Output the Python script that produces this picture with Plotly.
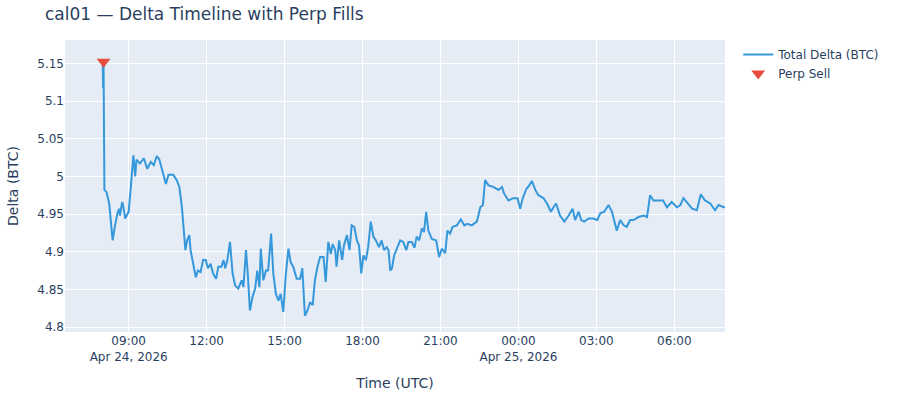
import plotly.graph_objects as go

# total delta samples (UTC)
times = [
    "2026-04-24 08:00", "2026-04-24 08:01", "2026-04-24 08:02", "2026-04-24 08:03", "2026-04-24 08:04",
    "2026-04-24 08:09", "2026-04-24 08:15", "2026-04-24 08:18", "2026-04-24 08:23", "2026-04-24 08:28",
    "2026-04-24 08:34", "2026-04-24 08:38", "2026-04-24 08:40", "2026-04-24 08:45", "2026-04-24 08:48",
    "2026-04-24 08:52", "2026-04-24 09:00", "2026-04-24 09:05", "2026-04-24 09:11", "2026-04-24 09:15",
    "2026-04-24 09:18", "2026-04-24 09:26", "2026-04-24 09:35", "2026-04-24 09:43", "2026-04-24 09:51",
    "2026-04-24 09:58", "2026-04-24 10:05", "2026-04-24 10:11", "2026-04-24 10:17", "2026-04-24 10:26",
    "2026-04-24 10:32", "2026-04-24 10:43", "2026-04-24 10:51", "2026-04-24 10:57", "2026-04-24 11:03",
    "2026-04-24 11:08", "2026-04-24 11:11", "2026-04-24 11:15", "2026-04-24 11:20", "2026-04-24 11:23",
    "2026-04-24 11:29", "2026-04-24 11:35", "2026-04-24 11:40", "2026-04-24 11:46", "2026-04-24 11:52",
    "2026-04-24 11:58", "2026-04-24 12:03", "2026-04-24 12:09", "2026-04-24 12:15", "2026-04-24 12:22",
    "2026-04-24 12:27", "2026-04-24 12:34", "2026-04-24 12:39", "2026-04-24 12:43", "2026-04-24 12:48",
    "2026-04-24 12:54", "2026-04-24 13:00", "2026-04-24 13:06", "2026-04-24 13:13", "2026-04-24 13:21",
    "2026-04-24 13:25", "2026-04-24 13:31", "2026-04-24 13:35", "2026-04-24 13:40", "2026-04-24 13:46",
    "2026-04-24 13:52", "2026-04-24 13:57", "2026-04-24 14:02", "2026-04-24 14:05", "2026-04-24 14:11",
    "2026-04-24 14:17", "2026-04-24 14:22", "2026-04-24 14:29", "2026-04-24 14:34", "2026-04-24 14:40",
    "2026-04-24 14:46", "2026-04-24 14:51", "2026-04-24 14:57", "2026-04-24 15:03", "2026-04-24 15:09",
    "2026-04-24 15:14", "2026-04-24 15:20", "2026-04-24 15:28", "2026-04-24 15:36", "2026-04-24 15:41",
    "2026-04-24 15:47", "2026-04-24 15:53", "2026-04-24 15:59", "2026-04-24 16:05", "2026-04-24 16:10",
    "2026-04-24 16:16", "2026-04-24 16:22", "2026-04-24 16:30", "2026-04-24 16:35", "2026-04-24 16:41",
    "2026-04-24 16:47", "2026-04-24 16:51", "2026-04-24 16:57", "2026-04-24 17:00", "2026-04-24 17:06",
    "2026-04-24 17:13", "2026-04-24 17:17", "2026-04-24 17:24", "2026-04-24 17:30", "2026-04-24 17:35",
    "2026-04-24 17:41", "2026-04-24 17:47", "2026-04-24 17:52", "2026-04-24 17:57", "2026-04-24 18:02",
    "2026-04-24 18:08", "2026-04-24 18:13", "2026-04-24 18:19", "2026-04-24 18:25", "2026-04-24 18:31",
    "2026-04-24 18:38", "2026-04-24 18:44", "2026-04-24 18:50", "2026-04-24 18:56", "2026-04-24 19:00",
    "2026-04-24 19:04", "2026-04-24 19:08", "2026-04-24 19:13", "2026-04-24 19:20", "2026-04-24 19:27",
    "2026-04-24 19:34", "2026-04-24 19:41", "2026-04-24 19:46", "2026-04-24 19:54", "2026-04-24 20:00",
    "2026-04-24 20:05", "2026-04-24 20:11", "2026-04-24 20:17", "2026-04-24 20:22", "2026-04-24 20:27",
    "2026-04-24 20:32", "2026-04-24 20:40", "2026-04-24 20:50", "2026-04-24 20:57", "2026-04-24 21:03",
    "2026-04-24 21:11", "2026-04-24 21:16", "2026-04-24 21:22", "2026-04-24 21:28", "2026-04-24 21:38",
    "2026-04-24 21:47", "2026-04-24 21:55", "2026-04-24 22:02", "2026-04-24 22:12", "2026-04-24 22:24",
    "2026-04-24 22:32", "2026-04-24 22:38", "2026-04-24 22:43", "2026-04-24 22:51", "2026-04-24 23:02",
    "2026-04-24 23:14", "2026-04-24 23:22", "2026-04-24 23:27", "2026-04-24 23:37", "2026-04-24 23:48",
    "2026-04-24 23:58", "2026-04-25 00:04", "2026-04-25 00:10", "2026-04-25 00:18", "2026-04-25 00:25",
    "2026-04-25 00:31", "2026-04-25 00:39", "2026-04-25 00:46", "2026-04-25 00:58", "2026-04-25 01:06",
    "2026-04-25 01:15", "2026-04-25 01:21", "2026-04-25 01:27", "2026-04-25 01:36", "2026-04-25 01:46",
    "2026-04-25 01:56", "2026-04-25 02:05", "2026-04-25 02:11", "2026-04-25 02:19", "2026-04-25 02:25",
    "2026-04-25 02:32", "2026-04-25 02:42", "2026-04-25 02:53", "2026-04-25 03:02", "2026-04-25 03:09",
    "2026-04-25 03:18", "2026-04-25 03:28", "2026-04-25 03:36", "2026-04-25 03:42", "2026-04-25 03:47",
    "2026-04-25 03:55", "2026-04-25 04:03", "2026-04-25 04:10", "2026-04-25 04:18", "2026-04-25 04:26",
    "2026-04-25 04:37", "2026-04-25 04:49", "2026-04-25 04:57", "2026-04-25 05:04", "2026-04-25 05:12",
    "2026-04-25 05:23", "2026-04-25 05:34", "2026-04-25 05:43", "2026-04-25 05:54", "2026-04-25 06:06",
    "2026-04-25 06:14", "2026-04-25 06:21", "2026-04-25 06:30", "2026-04-25 06:41", "2026-04-25 06:52",
    "2026-04-25 07:01", "2026-04-25 07:11", "2026-04-25 07:23", "2026-04-25 07:34", "2026-04-25 07:42",
    "2026-04-25 07:54", "2026-04-25 07:57",
]
delta = [
    5.150, 5.117, 5.152, 5.039, 4.982,
    4.979, 4.964, 4.946, 4.915, 4.933,
    4.951, 4.957, 4.948, 4.966, 4.959,
    4.944, 4.953, 4.986, 5.028, 5.000,
    5.022, 5.017, 5.024, 5.010, 5.019,
    5.015, 5.027, 5.022, 5.010, 4.990,
    5.002, 5.002, 4.995, 4.986, 4.959,
    4.924, 4.902, 4.915, 4.922, 4.902,
    4.884, 4.866, 4.875, 4.873, 4.889,
    4.889, 4.878, 4.884, 4.871, 4.864,
    4.880, 4.880, 4.889, 4.878, 4.889,
    4.913, 4.871, 4.855, 4.851, 4.862,
    4.853, 4.902, 4.871, 4.822, 4.840,
    4.851, 4.875, 4.853, 4.904, 4.862,
    4.875, 4.875, 4.924, 4.871, 4.844,
    4.835, 4.844, 4.820, 4.871, 4.904,
    4.886, 4.880, 4.864, 4.864, 4.878,
    4.815, 4.822, 4.833, 4.829, 4.862,
    4.880, 4.893, 4.893, 4.860, 4.913,
    4.897, 4.910, 4.902, 4.880, 4.915,
    4.889, 4.908, 4.922, 4.902, 4.935,
    4.933, 4.915, 4.908, 4.871, 4.895,
    4.889, 4.906, 4.940, 4.920, 4.915,
    4.906, 4.915, 4.902, 4.906, 4.902,
    4.875, 4.878, 4.895, 4.904, 4.915,
    4.913, 4.902, 4.913, 4.913, 4.905,
    4.920, 4.915, 4.931, 4.926, 4.953,
    4.928, 4.917, 4.915, 4.893, 4.904,
    4.898, 4.928, 4.924, 4.933, 4.935,
    4.943, 4.935, 4.937, 4.935, 4.940,
    4.959, 4.962, 4.995, 4.988, 4.986,
    4.982, 4.986, 4.977, 4.968, 4.971,
    4.971, 4.957, 4.971, 4.983, 4.988,
    4.994, 4.982, 4.975, 4.971, 4.964,
    4.953, 4.959, 4.964, 4.948, 4.940,
    4.948, 4.957, 4.942, 4.953, 4.942,
    4.940, 4.944, 4.944, 4.942, 4.951,
    4.953, 4.962, 4.953, 4.940, 4.928,
    4.942, 4.935, 4.933, 4.942, 4.942,
    4.946, 4.948, 4.946, 4.975, 4.968,
    4.968, 4.968, 4.959, 4.966, 4.959,
    4.962, 4.971, 4.964, 4.957, 4.955,
    4.976, 4.968, 4.964, 4.955, 4.962,
    4.959, 4.959,
]

# perp fills
sell_times = ["2026-04-24 08:02"]
sell_delta = [5.152]

fig = go.Figure()
fig.add_trace(go.Scatter(x=times, y=delta, mode='lines', name='Total Delta (BTC)',
                         line=dict(color='#3498db', width=2)))
fig.add_trace(go.Scatter(x=sell_times, y=sell_delta, mode='markers', name='Perp Sell',
                         marker=dict(symbol='triangle-down', size=12, color='#e74c3c')))
fig.update_layout(
    width=900, height=400,
    font=dict(family='Verdana, "DejaVu Sans", sans-serif'),
    title=dict(text='cal01 — Delta Timeline with Perp Fills', x=0.05, xanchor='left',
               y=0.965, yanchor='middle'),
    margin=dict(l=65, r=175, t=40, b=68),
    showlegend=True,
    xaxis=dict(title='Time (UTC)', range=["2026-04-24 06:33", "2026-04-25 07:57"],
               dtick=3 * 3600000, tick0="2026-04-24 00:00", automargin=False),
    yaxis=dict(title='Delta (BTC)', range=[4.7934, 5.181], dtick=0.05, automargin=False),
)
# page sits flush with the window edge
fig.write_html("out.html", config={'displayModeBar': False},
               post_script="document.body.style.margin = '0';")
